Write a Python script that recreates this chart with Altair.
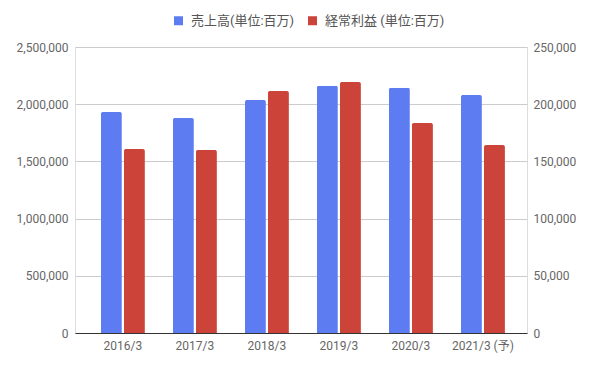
import altair as alt
import pandas as pd

years = ["2016/3", "2017/3", "2018/3", "2019/3", "2020/3", "2021/3 (予)"]
sales = [1932000, 1879000, 2037000, 2162000, 2144000, 2080000]
profit = [160800, 160000, 211500, 219400, 183600, 164300]
series_names = ["売上高(単位:百万)", "経常利益 (単位:百万)"]
colors = ["#5e7cf1", "#cc4339"]

df_sales = pd.DataFrame({"year": years, "value": sales, "series": series_names[0]})
df_profit = pd.DataFrame({"year": years, "value": profit, "series": series_names[1]})

FONT = "Roboto, 'Noto Sans CJK JP', sans-serif"

x_enc = alt.X(
    "year:N",
    sort=years,
    scale=alt.Scale(paddingInner=0.389, paddingOuter=0.333, align=0.54),
    axis=alt.Axis(
        title=None, labelAngle=0, ticks=False, grid=False, domain=True, domainColor="#333333",
        labelColor="#666666", labelFontSize=12, labelFont=FONT, labelPadding=7,
    ),
)
xoff = alt.XOffset("series:N", sort=series_names,
                   scale=alt.Scale(domain=series_names, paddingInner=0.09, paddingOuter=0))
color_enc = alt.Color(
    "series:N",
    scale=alt.Scale(domain=series_names, range=colors),
    legend=alt.Legend(
        title=None, orient="none", legendX=97, legendY=-33, direction="horizontal",
        symbolType="square", symbolSize=81, symbolStrokeWidth=0, labelFontSize=13,
        labelFont=FONT, labelColor="#555555", labelOffset=6, columnPadding=11,
    ),
)

bars_sales = alt.Chart(df_sales).mark_bar(
    cornerRadiusTopLeft=2, cornerRadiusTopRight=2
).encode(
    x=x_enc,
    xOffset=xoff,
    y=alt.Y(
        "value:Q",
        scale=alt.Scale(domain=[0, 2500000], nice=False),
        axis=alt.Axis(
            title=None, values=[0, 500000, 1000000, 1500000, 2000000, 2500000],
            format=",d", grid=True, gridColor="#cccccc", domain=False, ticks=False,
            labelColor="#666666", labelFontSize=12, labelFont=FONT, labelPadding=7,
            orient="left",
        ),
    ),
    color=color_enc,
)

bars_profit = alt.Chart(df_profit).mark_bar(
    cornerRadiusTopLeft=2, cornerRadiusTopRight=2
).encode(
    x=x_enc,
    xOffset=xoff,
    y=alt.Y(
        "value:Q",
        scale=alt.Scale(domain=[0, 250000], nice=False),
        axis=alt.Axis(
            title=None, values=[0, 50000, 100000, 150000, 200000, 250000],
            format=",d", grid=False, domain=False, ticks=False,
            labelColor="#666666", labelFontSize=12, labelFont=FONT, labelPadding=6,
            orient="right",
        ),
    ),
    color=color_enc,
)

chart = alt.layer(bars_sales, bars_profit).resolve_scale(
    y="independent"
).properties(
    width=452, height=286,
    autosize=alt.AutoSizeParams(type="none"),
    padding={"left": 67, "top": 39, "right": 61, "bottom": 28},
).configure_view(strokeWidth=0, stroke="transparent").configure_axis(
    domain=False
).configure_axisX(domain=True, domainColor="#333333").configure(background="white")

chart.save("out.html", embed_options={"renderer": "svg", "actions": False})
